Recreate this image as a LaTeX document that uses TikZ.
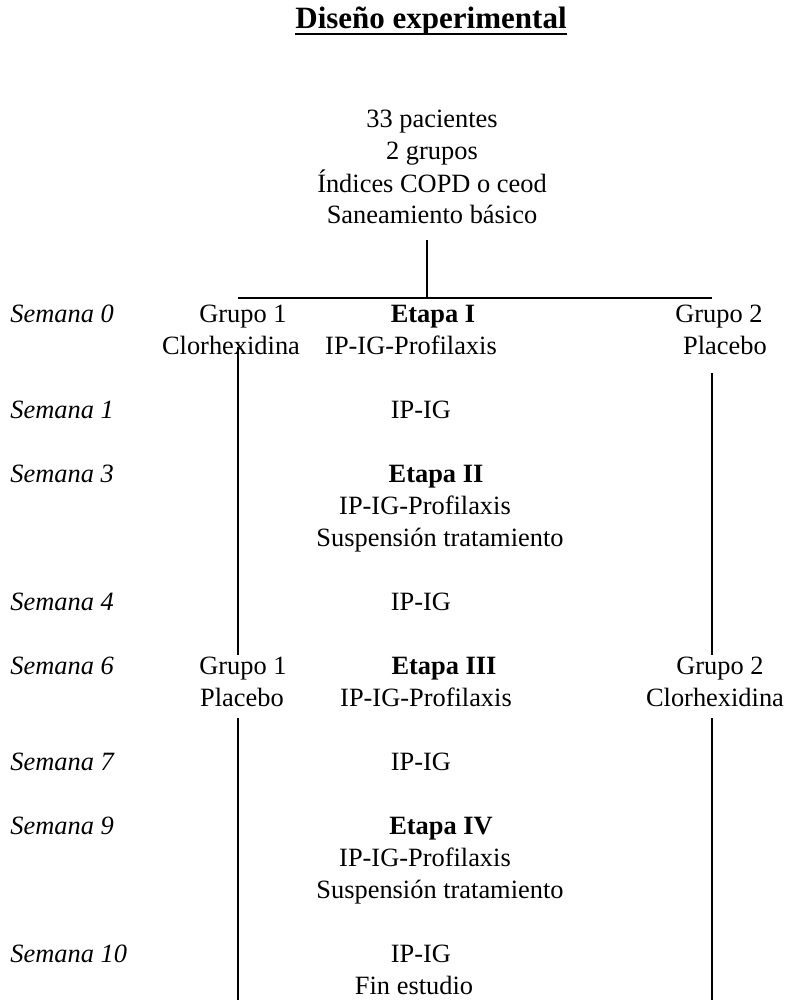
\documentclass[tikz,border=0pt]{standalone}
\usepackage{fontspec}
\setmainfont{Liberation Serif}
\usetikzlibrary{positioning}

\begin{document}
\begin{tikzpicture}[x=0.5pt, y=-0.5pt,
    every node/.style={inner sep=0pt, font=\fontsize{13.2}{16}\selectfont},
    lbl/.style={anchor=base},
    stage/.style={anchor=base, font=\fontsize{13.2}{16}\selectfont\bfseries},
    week/.style={anchor=base west, font=\fontsize{13.2}{16}\selectfont\itshape},
    arm/.style={anchor=base, fill=white, inner xsep=1pt, inner ysep=1pt, text depth=5pt},
    conn/.style={line width=0.7pt}]
    \useasboundingbox (0,0) rectangle (785,1000);

    % line ends
    \coordinate (stemtop) at (427,240);
    \coordinate (split) at (427,298);
    \coordinate (armL) at (238,298);
    \coordinate (armR) at (712,298);
    \coordinate (lineLtop) at (238,347);
    \coordinate (lineLend) at (238,1000);
    \coordinate (lineRtop) at (712,373);
    \coordinate (lineRend) at (712,1000);

    \draw[conn] (stemtop) -- (split);
    \draw[conn] (armL) -- (armR);
    \draw[conn] (lineLtop) -- (lineLend);
    \draw[conn] (lineRtop) -- (lineRend);

    % title and patients
    \node[anchor=base, font=\fontsize{15.5}{18}\selectfont\bfseries] (title) at (431,29) {Diseño experimental};
    \draw[line width=1pt] ([yshift=-2.3pt]title.base west) -- ([yshift=-2.3pt]title.base east);
    \node[lbl] (intro1) at (432,128) {33 pacientes};
    \node[lbl] (intro2) at (432,160) {2 grupos};
    \node[lbl] (intro3) at (432,192) {Índices COPD o ceod};
    \node[lbl] (intro4) at (432,224) {Saneamiento básico};

    % Semana 0
    \node[week] (w0) at (10,322) {Semana 0};
    \node[lbl] (g1a) at (243,322) {Grupo 1};
    \node[lbl] (g1b) at (231,354) {Clorhexidina};
    \node[stage] (e1) at (433,322) {Etapa I};
    \node[lbl] (e1a) at (411,354) {IP-IG-Profilaxis};
    \node[lbl] (g2a) at (719,322) {Grupo 2};
    \node[lbl] (g2b) at (725,354) {Placebo};

    % Semana 1
    \node[week] (w1) at (10,418) {Semana 1};
    \node[lbl] (ig1) at (421,418) {IP-IG};

    % Semana 3
    \node[week] (w3) at (10,482) {Semana 3};
    \node[stage] (e2) at (436,482) {Etapa II};
    \node[lbl] (e2a) at (425,514) {IP-IG-Profilaxis};
    \node[lbl] (e2b) at (440,546) {Suspensión tratamiento};

    % Semana 4
    \node[week] (w4) at (10,610) {Semana 4};
    \node[lbl] (ig4) at (421,610) {IP-IG};

    % Semana 6
    \node[week] (w6) at (10,674) {Semana 6};
    \node[arm] (g1c) at (243,674) {Grupo 1};
    \node[arm] (g1d) at (242,706) {Placebo};
    \node[stage] (e3) at (444,674) {Etapa III};
    \node[lbl] (e3a) at (426,706) {IP-IG-Profilaxis};
    \node[arm] (g2c) at (720,674) {Grupo 2};
    \node[arm] (g2d) at (715,706) {Clorhexidina};

    % Semana 7
    \node[week] (w7) at (10,770) {Semana 7};
    \node[lbl] (ig7) at (421,770) {IP-IG};

    % Semana 9
    \node[week] (w9) at (10,834) {Semana 9};
    \node[stage] (e4) at (441,834) {Etapa IV};
    \node[lbl] (e4a) at (425,866) {IP-IG-Profilaxis};
    \node[lbl] (e4b) at (440,898) {Suspensión tratamiento};

    % Semana 10
    \node[week] (w10) at (10,962) {Semana 10};
    \node[lbl] (ig10) at (421,962) {IP-IG};
    \node[lbl] (fin) at (414,994) {Fin estudio};
\end{tikzpicture}
\end{document}
